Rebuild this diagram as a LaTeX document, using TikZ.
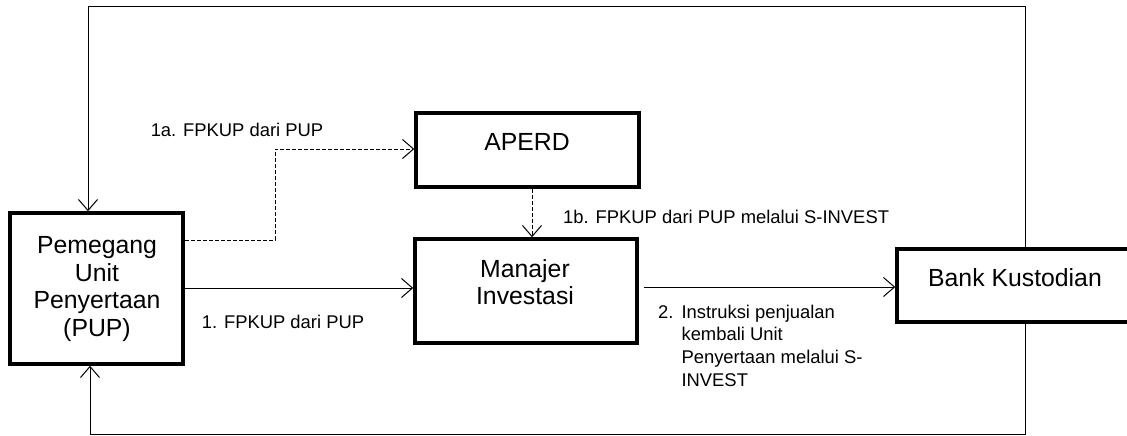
\documentclass[tikz,border=0pt]{standalone}
\usepackage{fontspec}
\setmainfont{Liberation Sans}
\usetikzlibrary{arrows.meta}
\begin{document}
\begin{tikzpicture}[x=1pt,y=-1pt,
  boxnode/.style={draw=black,line width=3.5pt,rectangle,inner sep=0pt,fill=white},
  boxtext/.style={inner sep=0pt,align=center,font=\fontsize{24.8}{27.5}\selectfont},
  lbl/.style={inner sep=0pt,font=\fontsize{18.4}{22.7}\selectfont},
  conn/.style={line width=1pt,-{Straight Barb[length=11pt,width=19pt,line width=1pt]}},
  plain/.style={line width=1pt},
  dconn/.style={conn,dash pattern=on 4pt off 2pt}]
\useasboundingbox (0,0) rectangle (1127,436);
\clip (0,0) rectangle (1127,436);
% coordinates for connector corners
\coordinate (tr) at (1025,7);
\coordinate (tl) at (88,7);
\coordinate (br) at (1025,434);
\coordinate (bl) at (90,434);
\coordinate (d1) at (275,240);
\coordinate (d2) at (275,149);
\coordinate (dv) at (532,200);
\coordinate (h1) at (300,288);
\coordinate (h2) at (700,287);
% connectors first (boxes drawn over)
\draw[plain] (1025,249) -- (tr) -- (tl);
\draw[plain] (1025,322) -- (br) -- (bl);
% boxes
\node[boxnode,minimum width=173pt,minimum height=151pt] (pup) at (96.5,288.5) {};
\node[boxnode,minimum width=223pt,minimum height=74pt] (apd) at (527.5,150) {};
\node[boxnode,minimum width=222pt,minimum height=104pt] (mi) at (526,291) {};
\node[boxnode,minimum width=263pt,minimum height=73pt] (bank) at (1028.5,285.5) {};
% box texts
\node[boxtext] (puptxt) at (97,289) {Pemegang\\Unit\\Penyertaan\\(PUP)};
\node[boxtext] (apdtxt) at (527,142) {APERD};
\node[boxtext] (mitxt) at (525,282) {Manajer\\Investasi};
\node[boxtext] (banktxt) at (1015,278) {Bank Kustodian};
% loops
\draw[conn] (tl) -- (tl |- pup.north);
\draw[conn] (bl) -- (bl |- pup.south);
\draw[plain] (bank.north -| tr) -- (tr);
\draw[plain] (bank.south -| br) -- (br);
% arrows
\draw[dconn] (pup.east |- d1) -- (d1) -- (d2) -- (d2 -| apd.west);
\draw[dconn] (apd.south -| dv) -- (mi.north -| dv);
\draw[conn] (pup.east |- h1) -- (mi.west |- h1);
\draw[conn] ([xshift=5pt]mi.east |- h2) -- (bank.west |- h2);
% labels
\node[lbl] (l1a) at (237,130) {1a. FPKUP dari PUP};
\node[lbl] (l1) at (283,322) {1. FPKUP dari PUP};
\node[lbl,anchor=west] (l1b) at (563,217) {1b. FPKUP dari PUP melalui S-INVEST};
\node[lbl,anchor=north west] (l2) at (658,302) {\begin{tabular}{@{}l@{\hspace{8pt}}l@{}}2.&Instruksi penjualan\\&kembali Unit\\&Penyertaan melalui S-\\&INVEST\end{tabular}};
\end{tikzpicture}
\end{document}
